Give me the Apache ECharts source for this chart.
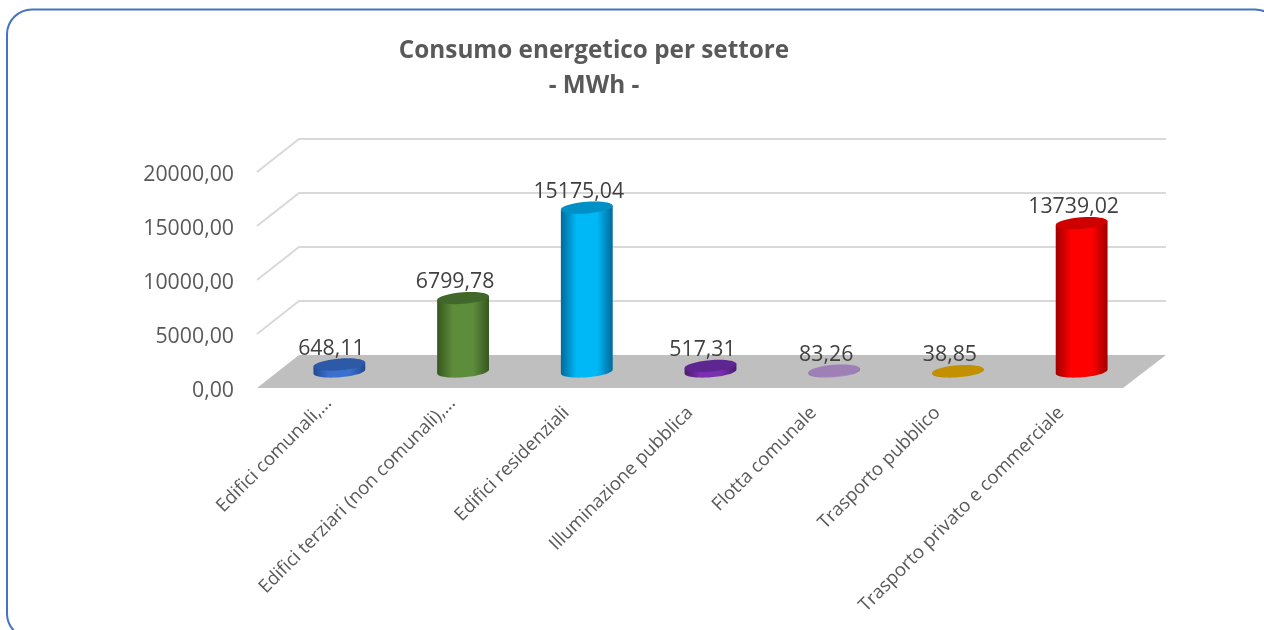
<!DOCTYPE html>
<html>
<head>
<meta charset="utf-8">
<style>html,body{margin:0;padding:0;background:#fff;overflow:hidden}#c{width:1264px;height:630px}</style>
<script src="https://cdn.jsdelivr.net/npm/echarts@6/dist/echarts.min.js"></script>
</head>
<body>
<div id="c"></div>
<script>
const categories = ['Edifici comunali,...','Edifici terziari (non comunali),...','Edifici residenziali','Illuminazione pubblica','Flotta comunale','Trasporto pubblico','Trasporto privato e commerciale'];
const values = [648.11,6799.78,15175.04,517.31,83.26,38.85,13739.02];
const wallTicks = [5000,10000,15000,20000];
const bodyMid = ['#3b70cf','#5d8c3a','#00b8f5','#7a30b0','#a98cc4','#cc9a00','#ff0000'];
const bodyEdge = ['#234a8f','#36561f','#00699a','#4a1a70','#8a6ca5','#a07800','#a00000'];
const topFill = ['#2c5aa6','#41672a','#0090c6','#5e2690','#9f80b6','#c29000','#cf0000'];

const DX = 42, DY = 33, RX = 26, RY = 5.8, TILT = 4.5 * Math.PI / 180;
const fmt = v => v.toFixed(2).replace('.', ',');

function ellipsePt(cx, cy, t) {
  const x = RX * Math.cos(t), y = RY * Math.sin(t);
  return [cx + x * Math.cos(TILT) + y * Math.sin(TILT), cy - x * Math.sin(TILT) + y * Math.cos(TILT)];
}
function renderFloor(params, api) {
  const c = params.coordSys, b = c.y + c.height, r = c.x + c.width;
  return {type:'polygon', shape:{points:[[c.x,b],[r,b],[r+DX+1,b-DY],[c.x+DX,b-DY]]}, style:{fill:'#bfbfbf'}};
}
function renderWall(params, api) {
  const c = params.coordSys, y = api.coord([0, api.value(1)])[1];
  return {type:'polyline', shape:{points:[[c.x,y],[c.x+DX,y-DY],[c.x+c.width+DX+1,y-DY]]}, style:{stroke:'#d9d9d9', lineWidth:2, fill:null}};
}
function renderCyl(params, api) {
  const i = api.value(0), v = api.value(1);
  const base = api.coord([i, 0]), top = api.coord([i, v]);
  const cx = base[0] + DX / 2 - 0.5, by = base[1] - DY / 2, ty = top[1] - DY / 2;
  const pts = [];
  pts.push(ellipsePt(cx, ty, Math.PI));
  for (let k = 0; k <= 36; k++) pts.push(ellipsePt(cx, by, Math.PI - Math.PI * k / 36));
  pts.push(ellipsePt(cx, ty, 0));
  return {type:'group', children:[
    {type:'polygon', shape:{points:pts}, style:{fill:new echarts.graphic.LinearGradient(0,0,1,0,[
      {offset:0,color:bodyEdge[i]},{offset:0.3,color:bodyMid[i]},{offset:0.7,color:bodyMid[i]},{offset:1,color:bodyEdge[i]}])}},
    {type:'ellipse', shape:{cx:cx,cy:ty,rx:RX,ry:RY}, rotation:TILT, originX:cx, originY:ty, style:{fill:topFill[i]}},
    {type:'text', style:{text:fmt(v), x:cx-8, y:ty-16, textAlign:'center', textVerticalAlign:'middle', fill:'#404040', fontFamily:'Open Sans', fontSize:21.3}}
  ]};
}
const chart = echarts.init(document.getElementById('c'), null, {renderer:'canvas'});
chart.setOption({
  animation:false,
  backgroundColor:'#fff',
  title:{text:'Consumo energetico per settore\n- MWh -', left:589, top:29, textAlign:'center',
    textStyle:{fontFamily:'Open Sans', fontWeight:'bold', fontSize:24.3, lineHeight:35, color:'#595959'}},
  graphic:[{type:'rect', shape:{x:7,y:9.5,width:1273,height:629,r:25}, style:{fill:null,stroke:'#4472c4',lineWidth:2}, silent:true, z:0}],
  grid:{left:257,right:141,top:172,bottom:242},
  xAxis:{type:'category',
    data:categories.map(c => c.endsWith('...') ? {value:c, textStyle:{padding:[0,-14,0,0]}} : c),
    axisLine:{show:false}, axisTick:{show:false}, splitLine:{show:false},
    axisLabel:{rotate:45, interval:0, margin:22, fontFamily:'Open Sans', fontSize:18.5, color:'#595959'}},
  yAxis:{type:'value', min:0, max:20000, interval:5000, axisLine:{show:false}, axisTick:{show:false}, splitLine:{show:false},
    axisLabel:{margin:23, verticalAlign:'top', lineHeight:6, fontFamily:'Open Sans', fontSize:21.3, color:'#595959', formatter:fmt}},
  series:[
    {type:'custom', z:1, clip:false, silent:true, renderItem:renderFloor, encode:{x:0,y:1}, data:[[0,0]]},
    {type:'custom', z:2, clip:false, silent:true, renderItem:renderWall, encode:{x:0,y:1}, data:wallTicks.map(t=>[0,t])},
    {type:'custom', z:3, clip:false, silent:true, renderItem:renderCyl, encode:{x:0,y:1}, data:values.map((v,i)=>[i,v])}
  ]
});
</script>
</body>
</html>
